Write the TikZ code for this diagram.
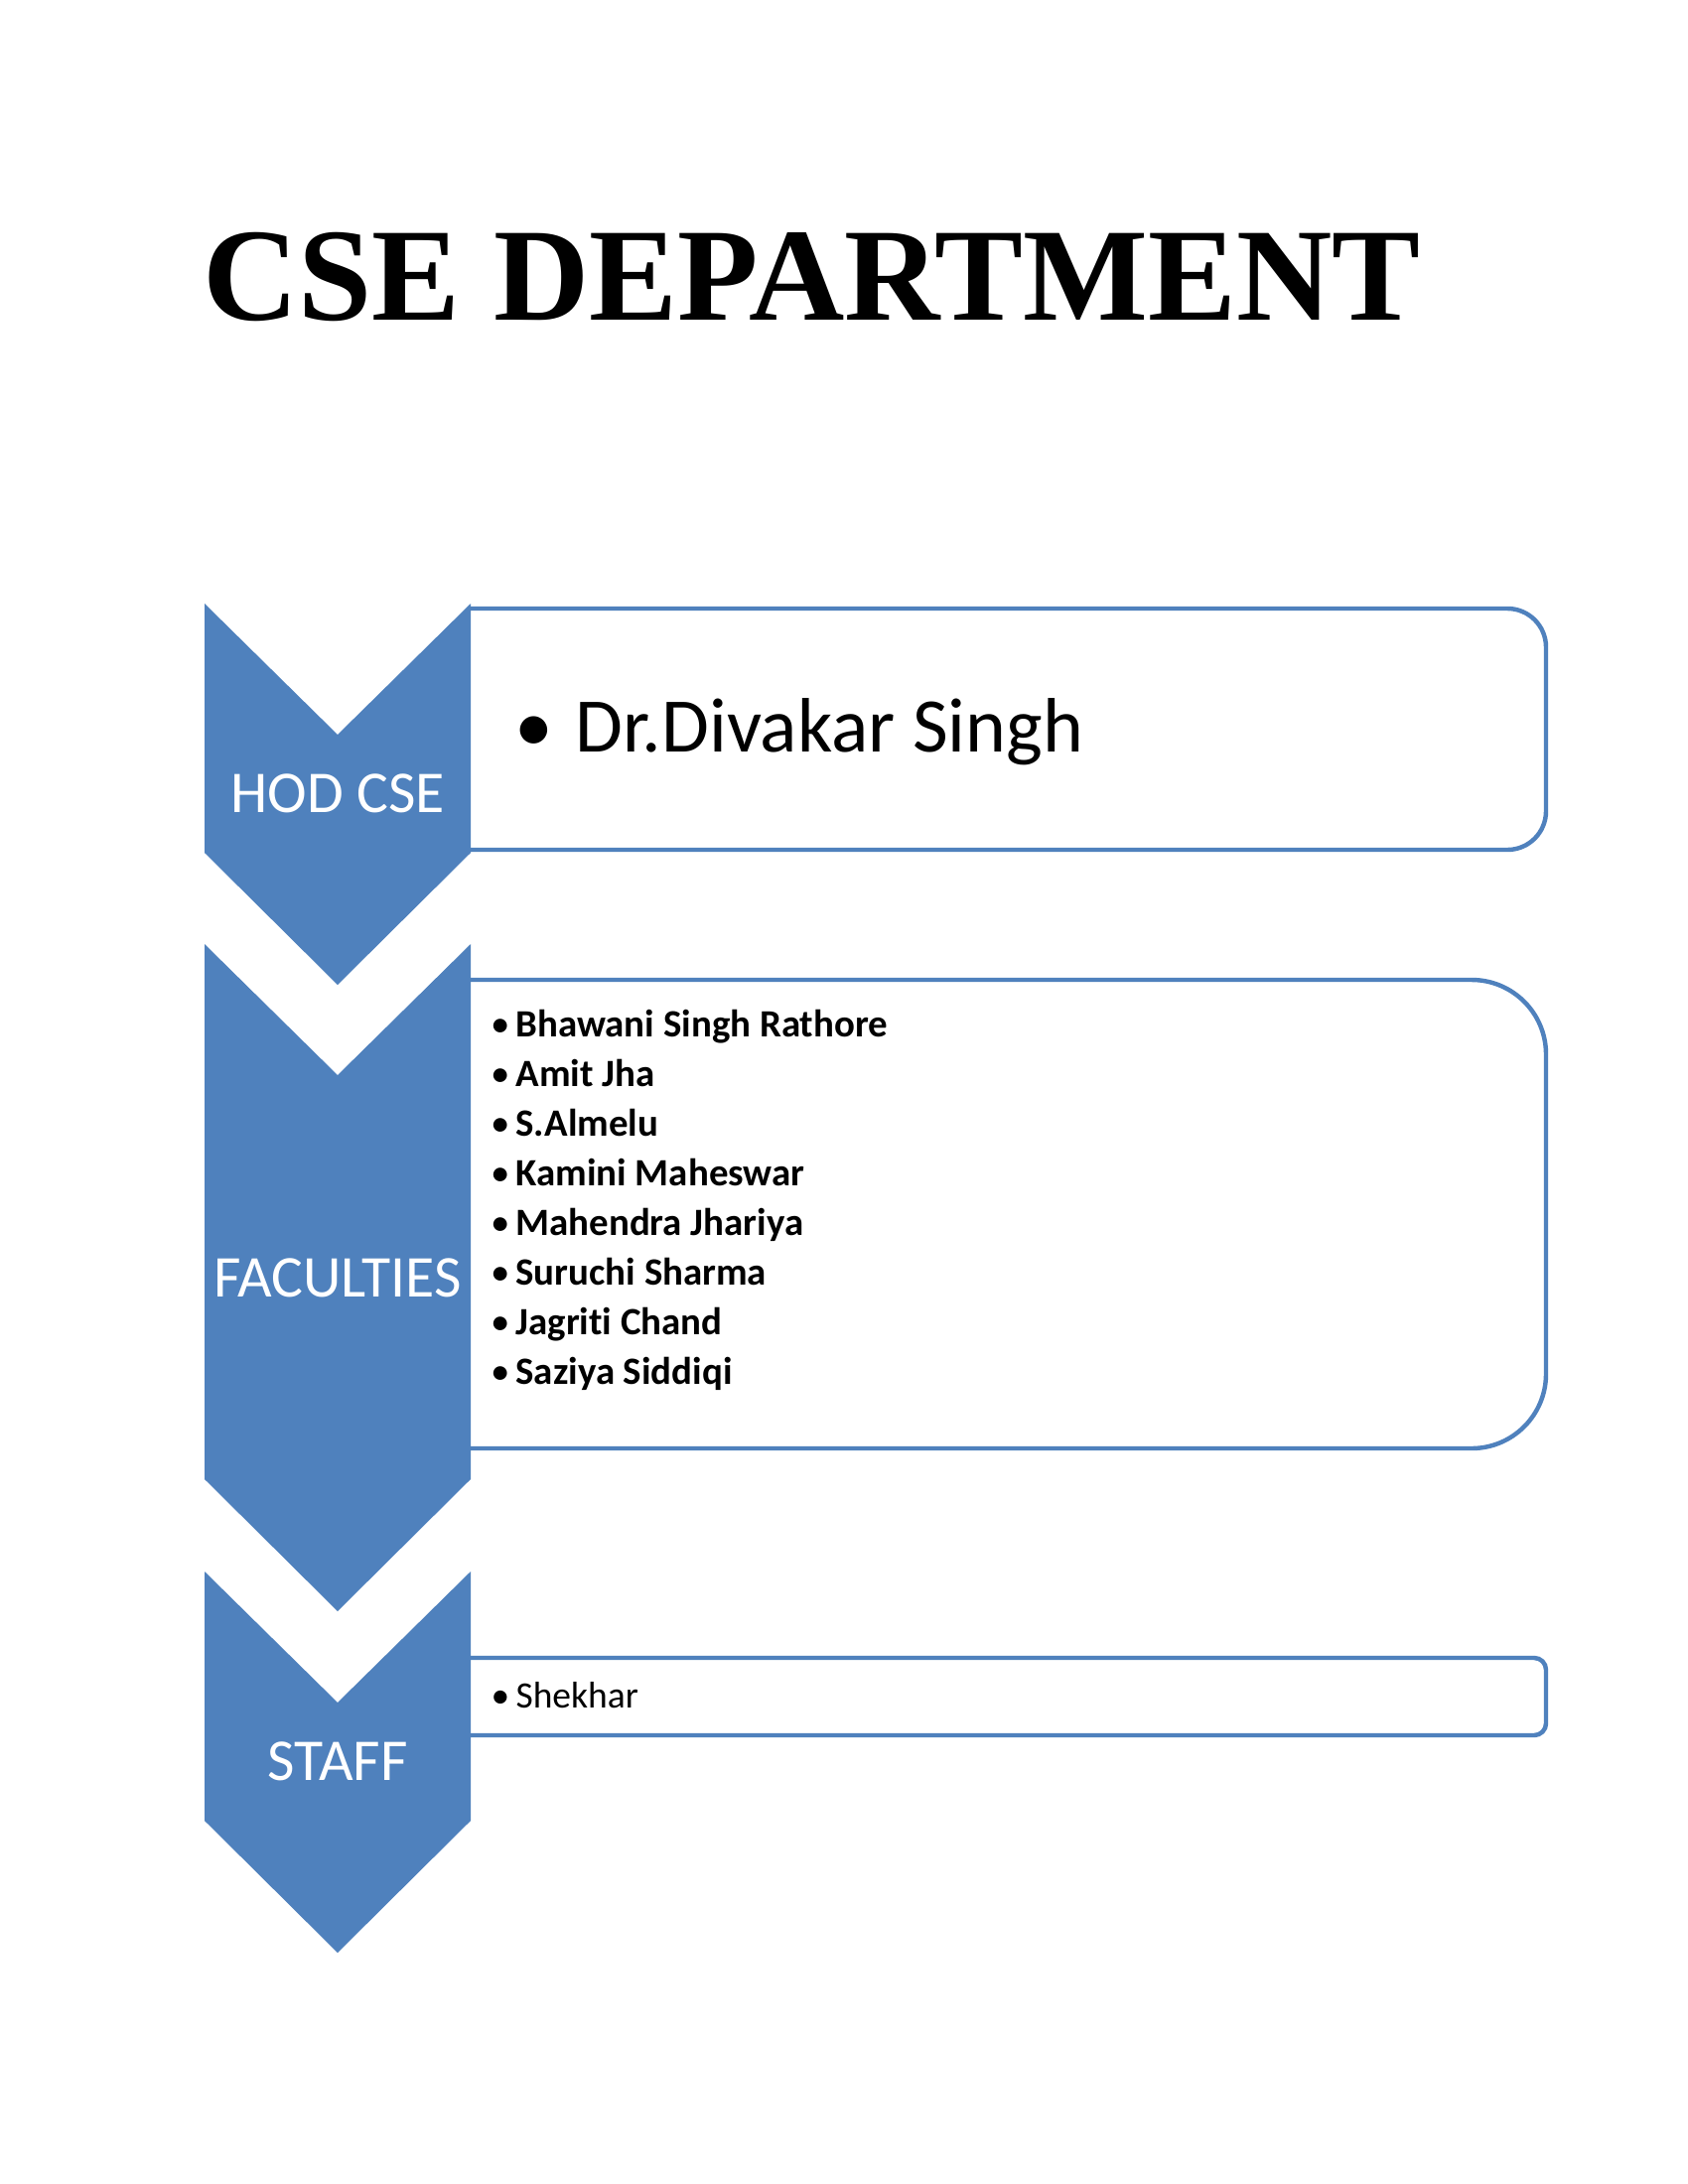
\documentclass[tikz,border=0pt]{standalone}
\usepackage{fontspec}
\setmainfont{Carlito}[Ligatures={NoCommon}]
\newfontfamily\titlefont{Liberation Serif}
\definecolor{accblue}{HTML}{4F81BD}
\tikzset{
  chev/.style={fill=accblue, draw=none},
  listbox/.style={draw=accblue, line width=1.6pt, fill=white},
  chevlabel/.style={anchor=base, inner sep=0pt, text=white, font=\fontsize{21.5}{26}\selectfont},
  bul/.style={anchor=base west, inner sep=0pt},
  item/.style={anchor=base west, inner sep=0pt},
  faclist/.style={font=\bfseries\fontsize{14}{17}\selectfont},
}
\begin{document}
\begin{tikzpicture}[x=0.36pt,y=-0.36pt]
\useasboundingbox (0,0) rectangle (1700,2200);
\fill[white] (0,0) rectangle (1700,2200);

% title
\node[anchor=base west, inner sep=0pt, font=\titlefont\bfseries\fontsize{48}{58}\selectfont] (title) at (204,323) {CSE DEPARTMENT};

% boxes (drawn first; left edges meet the chevrons)
\draw[listbox, rounded corners=14pt] (474,613) -- (1557,613) -- (1557,856) -- (474,856);
\draw[listbox, rounded corners=27pt] (474,987) -- (1557,987) -- (1557,1459) -- (474,1459);
\draw[listbox, rounded corners=4.3pt] (474,1670) -- (1557,1670) -- (1557,1748) -- (474,1748);

% chevrons
\fill[chev] (206,608) -- (340,740) -- (474,608) -- (474,859) -- (340,992) -- (206,859) -- cycle;
\fill[chev] (206,951) -- (340,1083) -- (474,951) -- (474,1490) -- (340,1623) -- (206,1490) -- cycle;
\fill[chev] (206,1583) -- (340,1715) -- (474,1583) -- (474,1834) -- (340,1967) -- (206,1834) -- cycle;

% chevron labels
\node[chevlabel] (hod) at (340,818) {HOD CSE};
\node[chevlabel] (fac) at (340,1306) {FACULTIES};
\node[chevlabel] (staff) at (340,1793) {STAFF};

% HOD content
\node[bul, font=\fontsize{28}{34}\selectfont] (b0) at (518,757) {•};
\node[item, font=\fontsize{28}{34}\selectfont] (hodname) at (579,757) {Dr.Divakar Singh};

% faculty list
\foreach \n/\name in {0/Bhawani Singh Rathore,1/Amit Jha,2/S.Almelu,3/Kamini Maheswar,4/Mahendra Jhariya,5/Suruchi Sharma,6/Jagriti Chand,7/Saziya Siddiqi}{
  \node[bul, font=\fontsize{14}{17}\selectfont] (fb\n) at (494,1044+50*\n) {•};
  \node[item, faclist] (f\n) at (519,1044+50*\n) {\name};
}

% staff
\node[bul, font=\fontsize{13.5}{16}\selectfont] (sb) at (494,1720) {•};
\node[item, font=\fontsize{13.5}{16}\selectfont] (s0) at (519,1720) {Shekhar};
\end{tikzpicture}
\end{document}
